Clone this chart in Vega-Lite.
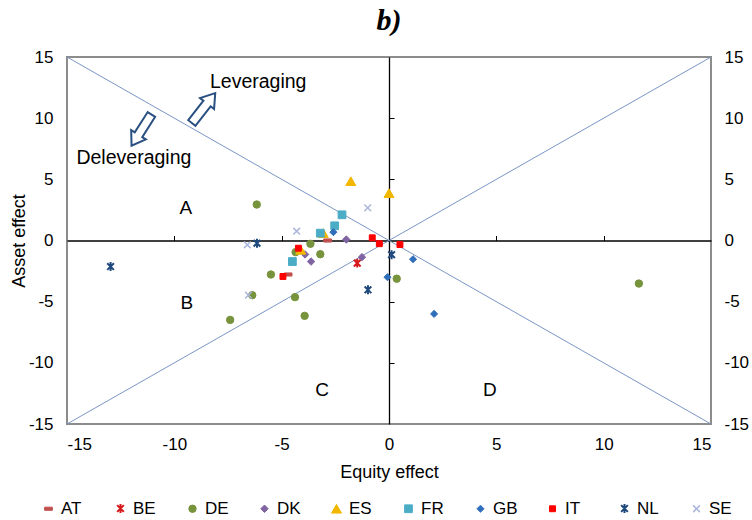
{
  "$schema": "https://vega.github.io/schema/vega-lite/v6.json",
  "width": 644,
  "height": 367,
  "autosize": "none",
  "padding": {"left": 67, "top": 57, "right": 41, "bottom": 96},
  "title": {"text": "b)", "font": "Liberation Serif", "fontSize": 30, "fontWeight": "bold", "fontStyle": "italic", "color": "#000", "frame": "group", "anchor": "middle", "offset": 12},
  "config": {
    "view": {"stroke": "#8C8C8C", "strokeWidth": 2},
    "axis": {"labelFont": "Liberation Sans", "titleFont": "Liberation Sans", "labelColor": "#000", "titleColor": "#000", "grid": false, "labelFontSize": 17, "titleFontSize": 18, "titleFontWeight": "normal", "labelExpr": "'' + datum.value"},
    "legend": {"labelFont": "Liberation Sans", "labelFontSize": 17, "labelColor": "#000"},
    "text": {"font": "Liberation Sans"}
  },
  "datasets": {
    "pts": [
      {"c": "AT", "x": -2.86, "y": 0.0}, {"c": "AT", "x": -4.7, "y": -2.78},
      {"c": "BE", "x": -1.48, "y": -1.85},
      {"c": "DE", "x": -6.16, "y": 2.94}, {"c": "DE", "x": -3.66, "y": -0.27}, {"c": "DE", "x": -4.35, "y": -0.95}, {"c": "DE", "x": -3.2, "y": -1.12}, {"c": "DE", "x": -5.5, "y": -2.78}, {"c": "DE", "x": 0.36, "y": -3.12}, {"c": "DE", "x": -6.37, "y": -4.47}, {"c": "DE", "x": -4.38, "y": -4.63}, {"c": "DE", "x": -7.4, "y": -6.49}, {"c": "DE", "x": -3.93, "y": -6.16}, {"c": "DE", "x": 11.64, "y": -3.52},
      {"c": "DK", "x": -1.99, "y": 0.08}, {"c": "DK", "x": -3.91, "y": -1.14}, {"c": "DK", "x": -3.63, "y": -1.72}, {"c": "DK", "x": -1.26, "y": -1.36},
      {"c": "ES", "x": -1.78, "y": 4.85}, {"c": "ES", "x": 0.0, "y": 3.87}, {"c": "ES", "x": -3.06, "y": 0.6}, {"c": "ES", "x": -4.11, "y": -0.76},
      {"c": "FR", "x": -2.19, "y": 2.1}, {"c": "FR", "x": -2.53, "y": 1.2}, {"c": "FR", "x": -3.2, "y": 0.6}, {"c": "FR", "x": -4.5, "y": -1.72},
      {"c": "GB", "x": -2.59, "y": 0.68}, {"c": "GB", "x": 1.12, "y": -1.53}, {"c": "GB", "x": -0.07, "y": -3.0}, {"c": "GB", "x": 2.1, "y": -6.0},
      {"c": "IT", "x": -0.78, "y": 0.22}, {"c": "IT", "x": -0.45, "y": -0.26}, {"c": "IT", "x": 0.51, "y": -0.33}, {"c": "IT", "x": -4.22, "y": -0.63}, {"c": "IT", "x": -4.94, "y": -2.94},
      {"c": "NL", "x": -6.15, "y": -0.22}, {"c": "NL", "x": 0.12, "y": -1.16}, {"c": "NL", "x": -0.98, "y": -4.03}, {"c": "NL", "x": -12.97, "y": -2.13},
      {"c": "SE", "x": -0.99, "y": 2.67}, {"c": "SE", "x": -4.3, "y": 0.76}, {"c": "SE", "x": -6.6, "y": -0.35}, {"c": "SE", "x": -6.55, "y": -4.47}
    ],
    "diag": [
      {"line": "up", "x": -15, "y": -15}, {"line": "up", "x": 15, "y": 15},
      {"line": "down", "x": -15, "y": 15}, {"line": "down", "x": 15, "y": -15}
    ],
    "letters": [
      {"label": "A", "x": -9.46, "y": 2.66}, {"label": "B", "x": -9.42, "y": -5.11},
      {"label": "C", "x": -3.12, "y": -12.26}, {"label": "D", "x": 4.7, "y": -12.26}
    ],
    "words": [
      {"label": "Leveraging", "x": -8.34, "y": 12.92}, {"label": "Deleveraging", "x": -14.56, "y": 6.75}
    ],
    "arrowUp": [{"x": -8.64, "y": 10.83}],
    "arrowDown": [{"x": -11.53, "y": 9.03}]
  },
  "layer": [
    {
      "layer": [
        {
          "data": {"name": "diag"},
          "mark": {"type": "line", "color": "#7A96C4", "strokeWidth": 1},
          "encoding": {
            "x": {"field": "x", "type": "quantitative", "scale": {"domain": [-15, 15], "nice": false, "zero": false},
                  "axis": {"orient": "bottom", "values": [-15, -10, -5, 0, 5, 10, 15], "domain": false, "ticks": false, "labelPadding": 12, "title": "Equity effect", "titlePadding": 11}},
            "y": {"field": "y", "type": "quantitative", "scale": {"domain": [-15, 15], "nice": false, "zero": false},
                  "axis": {"orient": "left", "values": [-15, -10, -5, 0, 5, 10, 15], "domain": false, "ticks": false, "labelPadding": 14, "title": "Asset effect", "titlePadding": 0}},
            "detail": {"field": "line"}
          }
        },
        {
          "data": {"name": "letters"},
          "mark": {"type": "text", "fontSize": 19, "color": "#000", "align": "center", "baseline": "middle"},
          "encoding": {
            "x": {"field": "x", "type": "quantitative"},
            "y": {"field": "y", "type": "quantitative"},
            "text": {"field": "label"}
          }
        },
        {
          "data": {"name": "words"},
          "mark": {"type": "text", "fontSize": 19.5, "color": "#000", "align": "left", "baseline": "middle"},
          "encoding": {
            "x": {"field": "x", "type": "quantitative"},
            "y": {"field": "y", "type": "quantitative"},
            "text": {"field": "label"}
          }
        },
        {
          "data": {"name": "arrowUp"},
          "mark": {"type": "point", "filled": true, "fill": "#fff", "stroke": "#2A5082", "strokeWidth": 2, "opacity": 1, "size": 1444, "angle": 38,
                   "shape": "M-0.24,1L-0.24,-0.3L-0.47,-0.3L0,-1L0.47,-0.3L0.24,-0.3L0.24,1Z"},
          "encoding": {
            "x": {"field": "x", "type": "quantitative"},
            "y": {"field": "y", "type": "quantitative"}
          }
        },
        {
          "data": {"name": "arrowDown"},
          "mark": {"type": "point", "filled": true, "fill": "#fff", "stroke": "#2A5082", "strokeWidth": 2, "opacity": 1, "size": 1369, "angle": 212.5,
                   "shape": "M-0.24,1L-0.24,-0.3L-0.47,-0.3L0,-1L0.47,-0.3L0.24,-0.3L0.24,1Z"},
          "encoding": {
            "x": {"field": "x", "type": "quantitative"},
            "y": {"field": "y", "type": "quantitative"}
          }
        },
        {
          "data": {"name": "pts"},
          "mark": {"type": "point", "filled": true, "opacity": 1},
          "encoding": {
            "x": {"field": "x", "type": "quantitative"},
            "y": {"field": "y", "type": "quantitative"},
            "color": {"field": "c", "type": "nominal",
                      "scale": {"domain": ["AT", "BE", "DE", "DK", "ES", "FR", "GB", "IT", "NL", "SE"],
                                "range": ["#C0504D", "#D7191C", "#77933C", "#8064A2", "#F2B700", "#4BACC6", "#2F6EBA", "#FF0000", "#1F497D", "#AAB6DA"]},
                      "legend": {"title": null, "orient": "none", "legendX": -27, "legendY": 443, "direction": "horizontal", "columns": 10, "gridAlign": "all", "columnPadding": 26, "symbolSize": 32, "symbolStrokeWidth": 1.2, "labelOffset": 4, "padding": 0}},
            "stroke": {"field": "c", "type": "nominal",
                      "scale": {"domain": ["AT", "BE", "DE", "DK", "ES", "FR", "GB", "IT", "NL", "SE"],
                                "range": ["#C0504D", "#D7191C", "#77933C", "#8064A2", "#F2B700", "#4BACC6", "#2F6EBA", "#FF0000", "#1F497D", "#AAB6DA"]},
                      "legend": {"title": null, "orient": "none", "legendX": -27, "legendY": 443, "direction": "horizontal", "columns": 10, "gridAlign": "all", "columnPadding": 26, "symbolSize": 32, "symbolStrokeWidth": 1.2, "labelOffset": 4, "padding": 0}},
            "shape": {"field": "c", "type": "nominal",
                      "scale": {"domain": ["AT", "BE", "DE", "DK", "ES", "FR", "GB", "IT", "NL", "SE"],
                                "range": ["M-1,-0.4H1V0.4H-1Z", "M-0.75,-0.75L0.75,0.75M-0.75,0.75L0.75,-0.75M0,-1L0,1", "circle", "diamond", "triangle-up", "square", "diamond", "square", "M-0.75,-0.75L0.75,0.75M-0.75,0.75L0.75,-0.75M0,-1L0,1", "M-1,-1L1,1M-1,1L1,-1"]},
                      "legend": {"title": null, "orient": "none", "legendX": -27, "legendY": 443, "direction": "horizontal", "columns": 10, "gridAlign": "all", "columnPadding": 26, "symbolSize": 32, "symbolStrokeWidth": 1.2, "labelOffset": 4, "padding": 0}},
            "size": {"field": "c", "type": "nominal",
                     "scale": {"type": "ordinal", "domain": ["AT", "BE", "DE", "DK", "ES", "FR", "GB", "IT", "NL", "SE"],
                               "range": [60, 80, 55, 55, 100, 60, 50, 35, 80, 45]}, "legend": null},
            "strokeWidth": {"field": "c", "type": "nominal",
                     "scale": {"type": "ordinal", "domain": ["AT", "BE", "DE", "DK", "ES", "FR", "GB", "IT", "NL", "SE"],
                               "range": [1, 2, 1, 1, 1, 1, 1, 1, 2, 1.5]}, "legend": null}
          }
        }
      ]
    },
    {
      "data": {"values": [{"v": 0}]},
      "mark": {"type": "point", "opacity": 0},
      "encoding": {
        "x": {"datum": 0, "type": "quantitative", "scale": {"domain": [-15, 15], "nice": false, "zero": false},
              "axis": {"orient": "top", "offset": -183.5, "values": [-10, -5, 5, 10], "labels": false, "domainColor": "#000", "domainWidth": 1.3, "tickColor": "#000", "tickSize": 5, "tickWidth": 1, "title": null}},
        "y": {"datum": 0, "type": "quantitative", "scale": {"domain": [-15, 15], "nice": false, "zero": false},
              "axis": {"orient": "right", "values": [-15, -10, -5, 0, 5, 10, 15], "domain": false, "ticks": false, "labelPadding": 13, "title": null}}
      }
    },
    {
      "data": {"values": [{"v": 0}]},
      "mark": {"type": "point", "opacity": 0},
      "encoding": {
        "x": {"datum": 0, "type": "quantitative", "scale": {"domain": [-15, 15], "nice": false, "zero": false}, "axis": null},
        "y": {"datum": 0, "type": "quantitative", "scale": {"domain": [-15, 15], "nice": false, "zero": false},
              "axis": {"orient": "right", "offset": -322, "values": [-10, -5, 5, 10], "labels": false, "domainColor": "#000", "domainWidth": 1.3, "tickColor": "#000", "tickSize": 5, "tickWidth": 1, "title": null}}
      }
    }
  ],
  "resolve": {"scale": {"x": "independent", "y": "independent"}, "axis": {"x": "independent", "y": "independent"}}
}
